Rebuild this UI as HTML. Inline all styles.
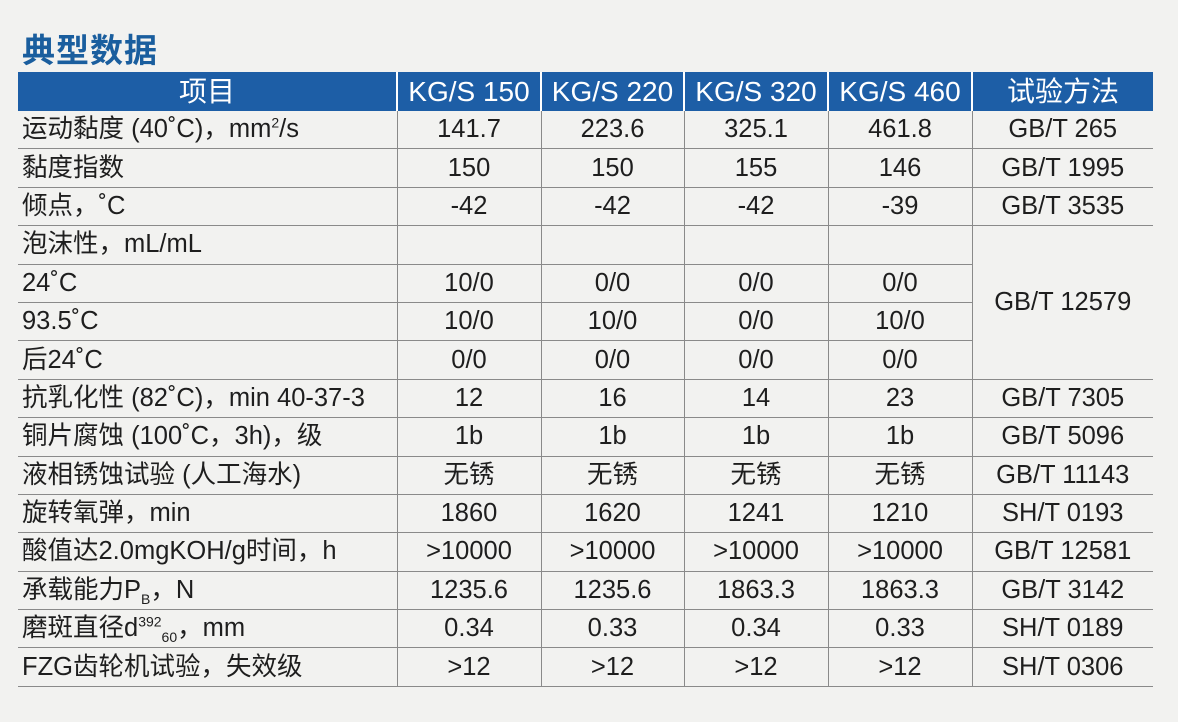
<!DOCTYPE html>
<html><head><meta charset="utf-8"><style>
body{margin:0;width:1178px;height:722px;background:#f2f2f0;font-family:"Liberation Sans","Noto Sans CJK SC",sans-serif;overflow:hidden;position:relative}
h1{position:absolute;left:22px;top:24px;margin:0;font-size:33px;font-weight:bold;color:#1a5e9e;font-family:"Noto Sans CJK SC",sans-serif;letter-spacing:1px}
table{position:absolute;left:18px;top:72px;border-collapse:collapse;table-layout:fixed;width:1135px}
th{background:#1d5ea6;color:#fff;font-weight:normal;font-size:28px;height:39px;padding:0;border-left:2px solid #fff;text-align:center;line-height:39px}
th:first-child{border-left:none}
td{height:37.4px;padding:0;font-size:25.5px;color:#1e1e1e;text-align:center;border-bottom:1.5px solid #8a8a8a;border-left:1.5px solid #8a8a8a;line-height:37px;white-space:nowrap}
td:first-child{text-align:left;border-left:none;padding-left:4px}
sup,sub{font-size:14px;line-height:0}
</style></head><body>
<h1>典型数据</h1>
<table>
<colgroup><col style="width:379px"><col style="width:144px"><col style="width:143px"><col style="width:144px"><col style="width:144px"><col style="width:181px"></colgroup>
<tr><th>项目</th><th>KG/S 150</th><th>KG/S 220</th><th>KG/S 320</th><th>KG/S 460</th><th>试验方法</th></tr>
<tr><td>运动黏度 (40˚C)，mm<sup>2</sup>/s</td><td>141.7</td><td>223.6</td><td>325.1</td><td>461.8</td><td>GB/T 265</td></tr>
<tr><td>黏度指数</td><td>150</td><td>150</td><td>155</td><td>146</td><td>GB/T 1995</td></tr>
<tr><td>倾点，˚C</td><td>-42</td><td>-42</td><td>-42</td><td>-39</td><td>GB/T 3535</td></tr>
<tr><td>泡沫性，mL/mL</td><td></td><td></td><td></td><td></td><td rowspan="4">GB/T 12579</td></tr>
<tr><td>24˚C</td><td>10/0</td><td>0/0</td><td>0/0</td><td>0/0</td></tr>
<tr><td>93.5˚C</td><td>10/0</td><td>10/0</td><td>0/0</td><td>10/0</td></tr>
<tr><td>后24˚C</td><td>0/0</td><td>0/0</td><td>0/0</td><td>0/0</td></tr>
<tr><td>抗乳化性 (82˚C)，min 40-37-3</td><td>12</td><td>16</td><td>14</td><td>23</td><td>GB/T 7305</td></tr>
<tr><td>铜片腐蚀 (100˚C，3h)，级</td><td>1b</td><td>1b</td><td>1b</td><td>1b</td><td>GB/T 5096</td></tr>
<tr><td>液相锈蚀试验 (人工海水)</td><td>无锈</td><td>无锈</td><td>无锈</td><td>无锈</td><td>GB/T 11143</td></tr>
<tr><td>旋转氧弹，min</td><td>1860</td><td>1620</td><td>1241</td><td>1210</td><td>SH/T 0193</td></tr>
<tr><td>酸值达2.0mgKOH/g时间，h</td><td>&gt;10000</td><td>&gt;10000</td><td>&gt;10000</td><td>&gt;10000</td><td>GB/T 12581</td></tr>
<tr><td>承载能力P<sub>B</sub>，N</td><td>1235.6</td><td>1235.6</td><td>1863.3</td><td>1863.3</td><td>GB/T 3142</td></tr>
<tr><td>磨斑直径d<sup>392</sup><sub>60</sub>，mm</td><td>0.34</td><td>0.33</td><td>0.34</td><td>0.33</td><td>SH/T 0189</td></tr>
<tr><td>FZG齿轮机试验，失效级</td><td>&gt;12</td><td>&gt;12</td><td>&gt;12</td><td>&gt;12</td><td>SH/T 0306</td></tr>
</table>
</body></html>
